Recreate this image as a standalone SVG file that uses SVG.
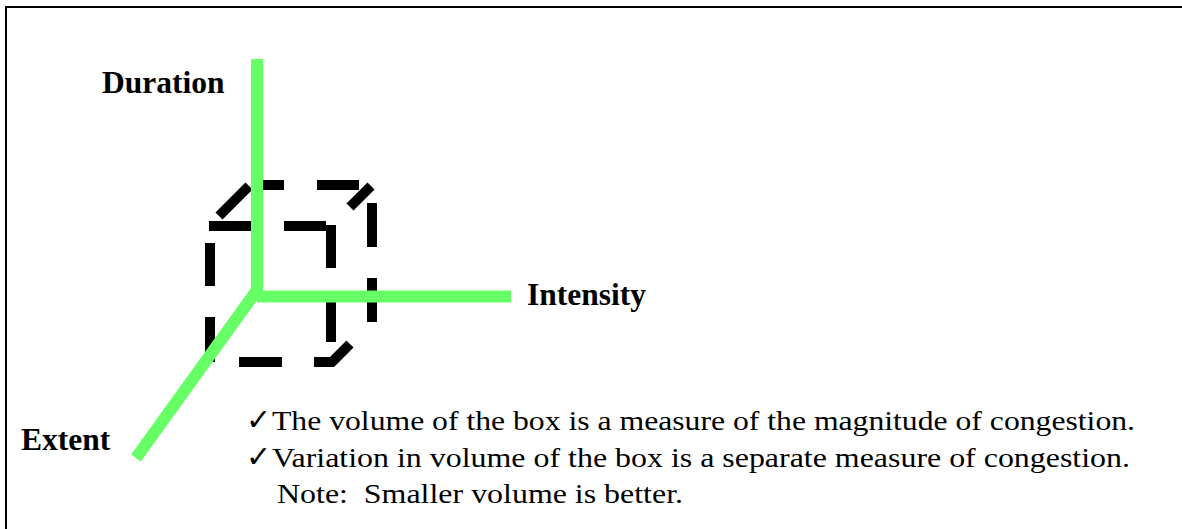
<svg xmlns="http://www.w3.org/2000/svg" width="1182" height="529" viewBox="0 0 1182 529">
<style>
.dash{stroke:#000;stroke-width:10;fill:none;stroke-linecap:butt;stroke-linejoin:miter}
.axis{stroke:#66FF66;stroke-width:12;fill:none;stroke-linecap:butt}
.serif{font-family:'Times New Roman','Liberation Serif',Tinos,Times,'Nimbus Roman','Nimbus Roman No9 L',FreeSerif,serif}
.lbl{font-weight:bold;font-size:31.5px;fill:#000}
.body{font-size:28px;fill:#000}
.chk{font-family:'DejaVu Sans',sans-serif;font-size:30px;font-weight:bold;fill:#000}
</style>
<rect width="1182" height="529" fill="#fff"/>
<rect id="frame" x="6" y="7" width="1200" height="600" fill="none" stroke="#000" stroke-width="2"/>
<g id="cube">
<line class="dash" x1="210" y1="362" x2="210" y2="317"/>
<line class="dash" x1="210" y1="286" x2="210" y2="243"/>
<line class="dash" x1="219" y1="216" x2="249" y2="186"/>
<line class="dash" x1="252" y1="185" x2="284" y2="185"/>
<line class="dash" x1="317" y1="185" x2="359" y2="185"/>
<line class="dash" x1="350" y1="207" x2="371" y2="186"/>
<line class="dash" x1="372" y1="203" x2="372" y2="247"/>
<line class="dash" x1="372" y1="278" x2="372" y2="322"/>
<polyline class="dash" points="350,344 332,362 314,362"/>
<line class="dash" x1="239" y1="362" x2="282" y2="362"/>
<line class="dash" x1="209" y1="226" x2="252" y2="226"/>
<line class="dash" x1="284" y1="226" x2="326" y2="226"/>
<line class="dash" x1="331" y1="225" x2="331" y2="268"/>
<line class="dash" x1="331" y1="291" x2="331" y2="342"/>
</g>
<g id="axes">
<line id="axis-duration" class="axis" x1="257" y1="59" x2="257" y2="292"/>
<line id="axis-intensity" class="axis" x1="257" y1="296.5" x2="511" y2="296.5"/>
<line id="axis-extent" class="axis" x1="257" y1="290" x2="136" y2="458"/>
</g>
<g id="labels" class="serif">
<text id="duration" class="lbl" x="102" y="93">Duration</text>
<text id="intensity" class="lbl" x="527" y="305">Intensity</text>
<text id="extent" class="lbl" x="21" y="450">Extent</text>
</g>
<g id="notes" class="serif">
<text class="chk" x="246" y="430">✓</text>
<text class="body" x="272" y="430" textLength="863" lengthAdjust="spacingAndGlyphs">The volume of the box is a measure of the magnitude of congestion.</text>
<text class="chk" x="246" y="467">✓</text>
<text class="body" x="272" y="467" textLength="858" lengthAdjust="spacingAndGlyphs">Variation in volume of the box is a separate measure of congestion.</text>
<text class="body" x="277" y="503" textLength="406" lengthAdjust="spacingAndGlyphs" xml:space="preserve">Note:  Smaller volume is better.</text>
</g>
</svg>
